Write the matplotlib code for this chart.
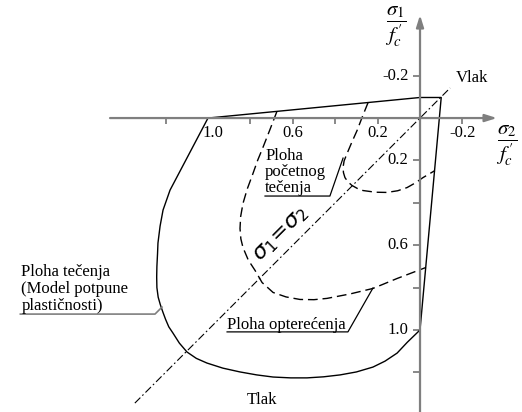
import matplotlib
matplotlib.use("Agg")
import matplotlib.pyplot as plt

plt.rcParams["font.family"] = "serif"
plt.rcParams["font.serif"] = ["Liberation Serif", "DejaVu Serif"]
plt.rcParams["mathtext.fontset"] = "stix"

# u = sigma2/f'c (positive = compression, to the left), v = sigma1/f'c (positive downward)
# outer yield surface (perfect plasticity), solid
outer_u = [1.000, 0.000, -0.100, 0.000, 0.060, 0.108, 0.165, 0.222, 0.300, 0.377, 0.455,
           0.533, 0.610, 0.693, 0.770, 0.849, 0.930, 1.005, 1.055, 1.099, 1.135, 1.165,
           1.185, 1.200, 1.213, 1.225, 1.235, 1.241, 1.242, 1.241, 1.238, 1.236, 1.226,
           1.212, 1.179, 1.000]
outer_v = [0.000, -0.097, -0.097, 1.000, 1.058, 1.109, 1.147, 1.175, 1.198, 1.212, 1.221,
           1.226, 1.226, 1.222, 1.212, 1.198, 1.180, 1.156, 1.134, 1.104, 1.062, 1.015,
           0.985, 0.950, 0.915, 0.880, 0.845, 0.800, 0.750, 0.700, 0.640, 0.590, 0.510,
           0.434, 0.340, 0.000]

# loading surface, dashed
load_u = [0.675, 0.708, 0.741, 0.766, 0.788, 0.815, 0.835, 0.846, 0.849, 0.845, 0.835,
          0.810, 0.778, 0.745, 0.693, 0.632, 0.566, 0.500, 0.439, 0.330, 0.222, 0.108,
          -0.028]
load_v = [-0.031, 0.055, 0.139, 0.200, 0.262, 0.335, 0.403, 0.465, 0.521, 0.570, 0.611,
          0.670, 0.719, 0.776, 0.823, 0.844, 0.856, 0.857, 0.851, 0.830, 0.804, 0.757,
          0.705]

# initial yield surface, dashed
init_u = [0.245, 0.272, 0.297, 0.322, 0.344, 0.358, 0.363, 0.361, 0.354, 0.340, 0.321,
          0.296, 0.269, 0.210, 0.156, 0.105, 0.061, 0.022, -0.014, -0.070]
init_v = [-0.073, -0.006, 0.059, 0.115, 0.167, 0.202, 0.233, 0.258, 0.281, 0.301, 0.318,
          0.332, 0.342, 0.350, 0.351, 0.343, 0.328, 0.306, 0.281, 0.248]

# sigma1 = sigma2 line
diag = [1.345, -0.142]

xticks = [1.2, 0.8, 0.6, 0.4, 0.2, -0.2]
xtick_labels = [1.0, 0.6, 0.2, -0.2]
yticks = [-0.2, 0.2, 0.4, 0.6, 0.8, 1.0, 1.2]
ytick_labels = [-0.2, 0.2, 0.6, 1.0]

fig = plt.figure(figsize=(5.22, 4.12), dpi=100)
ax = fig.add_axes([0, 0, 1, 1])
ax.set_xlim(1.981, -0.481)
ax.set_ylim(1.387, -0.557)
ax.axis("off")

axis_col = "#7f7f7f"
arrow = dict(arrowstyle="-|>,head_length=0.7,head_width=0.22", lw=1.6,
             color=axis_col, shrinkA=0, shrinkB=0)
ax.annotate("", xy=(-0.363, 0), xytext=(1.462, 0), arrowprops=arrow)
ax.annotate("", xy=(0, -0.486), xytext=(0, 1.40), arrowprops=arrow)

for t in xticks:
    ax.plot([t, t], [0, 0.026], color=axis_col, lw=1.3, solid_capstyle="butt")
for t in yticks:
    ax.plot([0, 0.033], [t, t], color=axis_col, lw=1.3, solid_capstyle="butt")

fs = 12
for t in xtick_labels:
    dx = -0.025 if t == 1.0 else 0
    ax.text(t + dx, 0.072, f"{t:.1f}", ha="center", va="center", fontsize=fs)
for t in ytick_labels:
    ax.text(0.055, t, f"{t:.1f}", ha="right", va="center", fontsize=fs)

# curves
ax.plot(diag, diag, color="black", lw=0.8, linestyle=(0, (7, 2.5, 1.5, 2.5)))
ax.plot(outer_u, outer_v, color="black", lw=1.0, solid_joinstyle="round")
ax.plot(load_u, load_v, color="black", lw=1.0, linestyle=(0, (7, 3.5)))
ax.plot(init_u, init_v, color="black", lw=1.0, linestyle=(0, (7, 3.5)))

# axis titles
ax.text(0.113, -0.43, r"$\dfrac{\sigma_1}{f^{\,\prime}_c}$", ha="center", va="center", fontsize=15)
ax.text(-0.41, 0.132, r"$\dfrac{\sigma_2}{f^{\,\prime}_c}$", ha="center", va="center", fontsize=15)

ax.text(-0.17, -0.189, "Vlak", ha="left", va="center", fontsize=fs)
ax.text(0.745, 1.33, "Tlak", ha="center", va="center", fontsize=fs)

ax.text(0.655, 0.552, r"$\sigma_1\!=\!\sigma_2$", rotation=45, rotation_mode="anchor",
        ha="center", va="center", fontsize=16, math_fontfamily="dejavusans")

# labels with underline + leader
lead = dict(color="black", lw=0.9)
for i, line in enumerate(["Ploha tečenja", "(Model potpune", "plastičnosti)"]):
    ax.text(1.88, 0.745 + i * 0.08, line, ha="left", va="baseline", fontsize=fs)
ax.plot([1.885, 1.25, 1.217], [0.925, 0.925, 0.892], color=axis_col, lw=1.2)

for i, line in enumerate(["Ploha", "početnog", "tečenja"]):
    ax.text(0.731, 0.198 + i * 0.076, line, ha="left", va="baseline", fontsize=fs)
ax.plot([0.731, 0.425, 0.363], [0.368, 0.368, 0.189], **lead)

ax.text(0.910, 0.995, "Ploha opterećenja", ha="left", va="baseline", fontsize=fs)
ax.plot([0.910, 0.340, 0.222], [1.009, 1.009, 0.802], **lead)

fig.savefig("out.png", dpi=100)
